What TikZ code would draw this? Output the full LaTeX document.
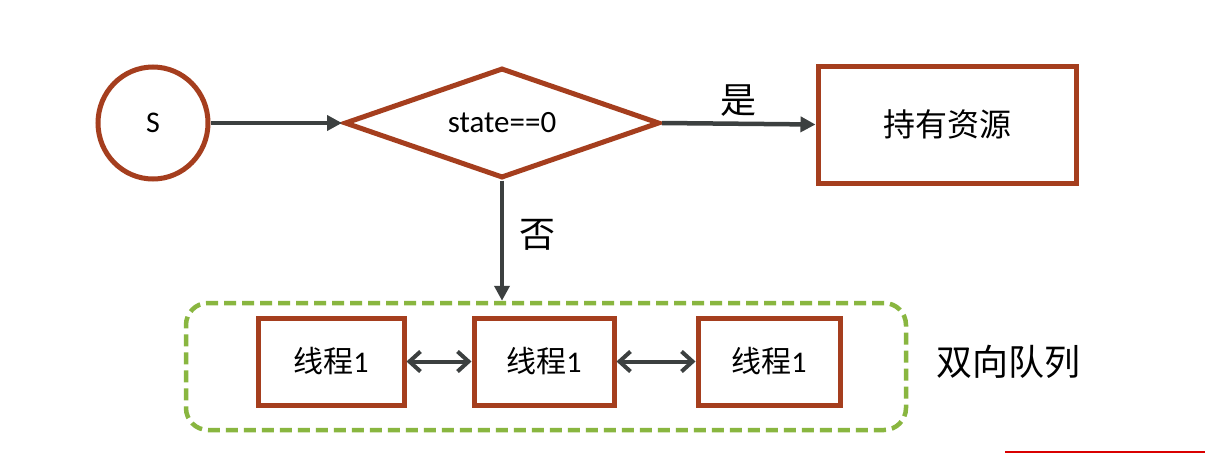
\documentclass[tikz,border=0pt]{standalone}
\usepackage{fontspec}
\setmainfont{Carlito}
\newfontfamily\cjk{Noto Sans CJK SC}
\usetikzlibrary{shapes.geometric,arrows.meta}
\definecolor{brd}{RGB}{165,62,30}
\definecolor{grn}{RGB}{137,182,64}
\definecolor{arr}{RGB}{60,64,64}
\tikzset{
  box/.style={draw=brd,line width=5pt,fill=white,inner sep=0pt},
  conn/.style={draw=arr,line width=4.5pt,-{Triangle[length=15pt,width=15pt]}},
  dconn/.style={draw=arr,line width=4pt,{Straight Barb[length=11pt,width=20pt,line width=4pt]}-{Straight Barb[length=11pt,width=20pt,line width=4pt]}},
  lbl/.style={font=\cjk\fontsize{36}{40}\selectfont}
}
\begin{document}
\begin{tikzpicture}[x=1pt,y=-1pt]
\useasboundingbox (0,0) rectangle (1205,453);
\fill[white] (0,0) rectangle (1205,453);
\node[box,ellipse,minimum width=110pt,minimum height=112pt,font=\fontsize{30}{34}\selectfont] (s) at (153,123) {S};
\node[box,diamond,minimum width=315pt,minimum height=110pt,aspect=2.86,font=\fontsize{31}{34}\selectfont] (d) at (502,123) {state==0};
\node[box,minimum width=258pt,minimum height=117pt,font=\cjk\fontsize{32}{36}\selectfont] (r) at (947,124.5) {持有资源};
\node[draw=grn,line width=4.5pt,dashed,dash pattern=on 12pt off 6pt,rounded corners=22pt,minimum width=720pt,minimum height=127pt] (q) at (546,366.5) {};
\node[box,minimum width=146pt,minimum height=87pt,font=\fontsize{30}{34}\selectfont] (t1) at (331,361.5) {{\cjk 线程}1};
\node[box,minimum width=140pt,minimum height=87pt,font=\fontsize{30}{34}\selectfont] (t2) at (544,361.5) {{\cjk 线程}1};
\node[box,minimum width=142pt,minimum height=87pt,font=\fontsize{30}{34}\selectfont] (t3) at (769,361.5) {{\cjk 线程}1};
\node[lbl] (ql) at (1008,362) {双向队列};
\draw[conn] (s.east) -- (d.west);
\draw[conn] (d.east) -- node[lbl,above=2pt] (yes) {是} (r.west);
\draw[conn] (d.south) -- node[lbl,right=12pt,pos=0.45] (no) {否} (d.south |- q.north);
\draw[dconn] (t1.east) -- (t2.west);
\draw[dconn] (t2.east) -- (t3.west);
\coordinate (ra) at (1005,452);
\coordinate (rb) at (1205,452);
\draw[red!85!black,line width=1.5pt] (ra) -- (rb);
\end{tikzpicture}
\end{document}
